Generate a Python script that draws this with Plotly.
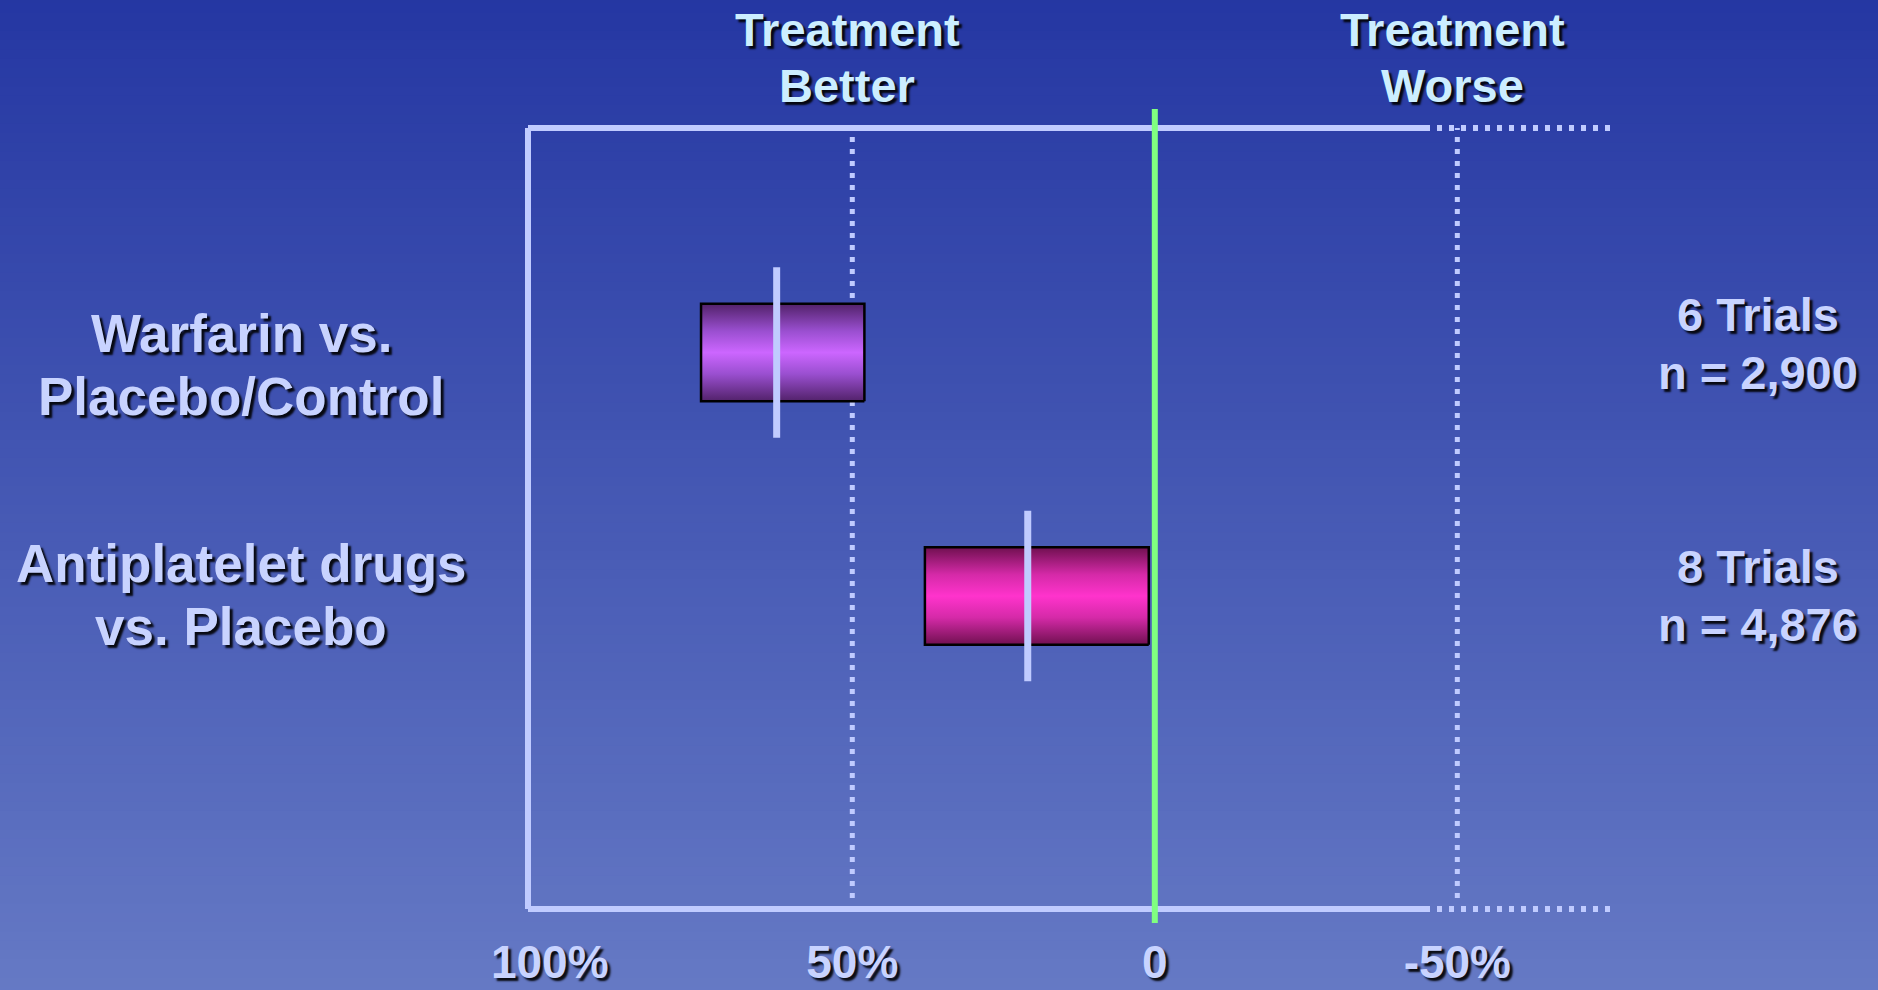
import plotly.graph_objects as go

# ---------------- data ----------------
comparison_lines = [["Warfarin vs.", "Placebo/Control"],
                    ["Antiplatelet drugs", "vs. Placebo"]]
row_pos = [2, 1]
rrr_estimate = [62.5, 21]       # relative risk reduction, %
ci_low = [48, 1]
ci_high = [75, 38]
trial_lines = [["6 Trials", "n = 2,900"],
               ["8 Trials", "n = 4,876"]]
tick_vals = [100, 50, 0, -50]
tick_text = ["100%", "50%", "0", "-50%"]
header_x = [50, -50]
header_lines = [["Treatment", "Better"], ["Treatment", "Worse"]]

# ---------------- style ----------------
W, H = 1878, 990
ML, MR, MT, MB = 528, 267, 128, 81
PW, PH = W - ML - MR, H - MT - MB
FONT = "Liberation Sans, Arial, sans-serif"
SHADOW = "3px 3px 2px rgba(0,0,0,0.9)"
LAV = "#C8D3FF"
CYAN = "#CCEEFF"
FRAME = "#C0CBFF"
GREEN = "#80FF80"
bar_scales = [
    [[0, "#52226a"], [0.28, "#9a4fd0"], [0.5, "#cc66ff"], [0.72, "#9a4fd0"], [1, "#52226a"]],
    [[0, "#701050"], [0.28, "#d52aa8"], [0.5, "#ff33cc"], [0.72, "#d52aa8"], [1, "#701050"]],
]
BAR_HALF = 0.2
EST_HALF = 0.35
left_shift = [-12, 1.5]
right_shift = [9.5, 1]

fig = go.Figure()

# bars (CI ranges) with vertical gradient
for i in range(len(row_pos)):
    y = row_pos[i]
    fig.add_trace(go.Scatter(
        x=[ci_low[i], ci_high[i], ci_high[i], ci_low[i], ci_low[i]],
        y=[y - BAR_HALF, y - BAR_HALF, y + BAR_HALF, y + BAR_HALF, y - BAR_HALF],
        mode="lines", fill="toself",
        fillgradient=dict(type="vertical", colorscale=bar_scales[i]),
        line=dict(color="#000000", width=2.5),
        hoverinfo="skip", showlegend=False))

# point estimates
ex, ey = [], []
for i in range(len(row_pos)):
    ex += [rrr_estimate[i], rrr_estimate[i], None]
    ey += [row_pos[i] - EST_HALF, row_pos[i] + EST_HALF, None]
fig.add_trace(go.Scatter(x=ex, y=ey, mode="lines",
                         line=dict(color=FRAME, width=7),
                         hoverinfo="skip", showlegend=False))

# ---------------- background gradient ----------------
shapes = []
top_c = (36, 54, 162)
bot_c = (102, 122, 197)
N = 110
y_lo, y_hi = -MB / PH - 0.02, 1 + MT / PH + 0.02
x_lo, x_hi = -ML / PW - 0.02, 1 + MR / PW + 0.02
for k in range(N):
    t = k / (N - 1)
    c = tuple(round(bot_c[j] + (top_c[j] - bot_c[j]) * t) for j in range(3))
    ya = y_lo + (y_hi - y_lo) * k / N
    yb = y_lo + (y_hi - y_lo) * (k + 1) / N + 0.002
    shapes.append(dict(type="rect", xref="paper", yref="paper", layer="below",
                       x0=x_lo, x1=x_hi, y0=ya, y1=yb,
                       fillcolor="rgb(%d,%d,%d)" % c, line=dict(width=0)))

# dotted reference lines at +/-50%
for v in [50, -50]:
    shapes.append(dict(type="line", xref="x", yref="paper", layer="below",
                       x0=v, x1=v, y0=11 / PH, y1=1,
                       line=dict(color=FRAME, width=5, dash="5px,7px")))

# frame
solid_end = (1425 - ML) / PW
for yy in [0, 1]:
    shapes.append(dict(type="line", xref="paper", yref="paper", layer="below",
                       x0=0, x1=solid_end, y0=yy, y1=yy,
                       line=dict(color=FRAME, width=6)))
    shapes.append(dict(type="line", xref="paper", yref="paper", layer="below",
                       x0=solid_end, x1=1, y0=yy, y1=yy,
                       line=dict(color=FRAME, width=6, dash="5px,7px")))
shapes.append(dict(type="line", xref="paper", yref="paper", layer="below",
                   x0=0, x1=0, y0=0, y1=1, line=dict(color=FRAME, width=6)))

# zero line
shapes.append(dict(type="line", xref="x", yref="paper", layer="below",
                   x0=0, x1=0, y0=-14 / PH, y1=1 + 19 / PH,
                   line=dict(color=GREEN, width=6)))

# ---------------- text ----------------
annotations = []


def add_lines(lines, x, xref, y, yref, size, color, spacing, base_shift=0,
              xshift=0):
    n = len(lines)
    for j, s in enumerate(lines):
        off = ((n - 1) / 2 - j) * spacing + base_shift
        annotations.append(dict(text=s, x=x, xref=xref, y=y, yref=yref,
                                xanchor="center", yanchor="middle", yshift=off,
                                xshift=xshift, showarrow=False,
                                font=dict(family=FONT, size=size, color=color,
                                          weight="bold", shadow=SHADOW)))


for i in range(len(row_pos)):
    add_lines(comparison_lines[i], (241 - ML) / PW, "paper", row_pos[i], "y",
              53, LAV, 63, left_shift[i])
    add_lines(trial_lines[i], (1758 - ML) / PW, "paper", row_pos[i], "y",
              47, LAV, 58, right_shift[i])
for i in range(len(header_x)):
    add_lines(header_lines[i], header_x[i], "x", 1, "paper", 47, CYAN, 56, 71,
              xshift=-5)

fig.update_layout(
    width=W, height=H,
    margin=dict(l=ML, r=MR, t=MT, b=MB, pad=0, autoexpand=False),
    paper_bgcolor="rgba(0,0,0,0)", plot_bgcolor="rgba(0,0,0,0)",
    shapes=shapes, annotations=annotations,
    xaxis=dict(range=[103.6, -75.4], showgrid=False, zeroline=False,
               showline=False, ticks="", tickvals=tick_vals, ticktext=tick_text,
               ticklabelstandoff=22, automargin=False,
               tickfont=dict(family=FONT, size=46, color=LAV, weight="bold",
                             shadow=SHADOW),
               fixedrange=True),
    yaxis=dict(range=[-0.285, 2.922], visible=False, fixedrange=True,
               automargin=False),
    showlegend=False,
)

fig.write_html(
    "out.html",
    config={"displayModeBar": False},
    post_script="document.body.style.margin='0px';"
                "document.body.style.overflow='hidden';"
                "document.body.style.background='rgb(102,122,197)';",
)
